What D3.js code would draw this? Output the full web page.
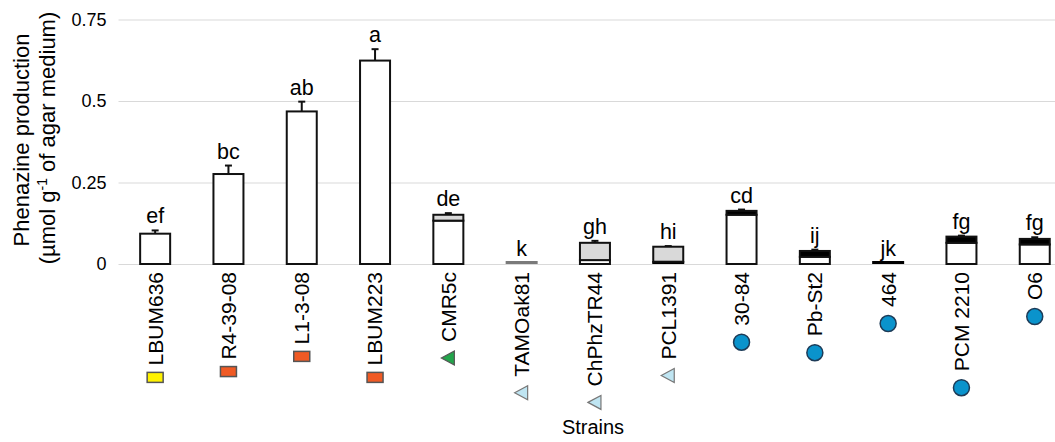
<!DOCTYPE html>
<html>
<head>
<meta charset="utf-8">
<script src="https://cdn.jsdelivr.net/npm/d3@7"></script>
<style>
  html, body { margin: 0; padding: 0; background: #fff; }
  svg { display: block; font-family: "Liberation Sans", Arial, sans-serif; }
</style>
</head>
<body>
<svg id="chart" width="1055" height="442"></svg>
<script>
// ---- data ----
const strains = ["LBUM636", "R4-39-08", "L1-3-08", "LBUM223", "CMR5c", "TAMOak81", "ChPhzTR44", "PCL1391", "30-84", "Pb-St2", "464", "PCM 2210", "O6"];
const whiteVals = [0.093, 0.276, 0.468, 0.624, 0.133, 0, 0.012, 0.007, 0.151, 0.022, 0, 0.065, 0.060];
const greyVals  = [0, 0, 0, 0, 0.018, 0.003, 0.053, 0.046, 0, 0, 0, 0, 0];
const blackVals = [0, 0, 0, 0, 0, 0, 0, 0, 0.012, 0.018, 0.004, 0.019, 0.017];
const errVals   = [0.010, 0.026, 0.030, 0.035, 0.005, 0, 0.006, 0.002, 0.004, 0.004, 0, 0.003, 0.005];
const letters   = ["ef", "bc", "ab", "a", "de", "k", "gh", "hi", "cd", "ij", "jk", "fg", "fg"];
const groups    = ["yellow", "orange", "orange", "orange", "green", "lightblue", "lightblue", "lightblue", "blue", "blue", "blue", "blue", "blue"];
const yTicks    = [0, 0.25, 0.5, 0.75];
const seriesKeys = ["white", "grey", "black"];

// ---- styles ----
const segFill = { white: "#ffffff", grey: "#d9d9d9", black: "#000000" };
const markerStyle = {
  yellow:    { shape: "rect", fill: "#fff200", stroke: "#555" },
  orange:    { shape: "rect", fill: "#f05a24", stroke: "#555" },
  green:     { shape: "tri",  fill: "#22a54b", stroke: "#555" },
  lightblue: { shape: "tri",  fill: "#bfe5f2", stroke: "#777" },
  blue:      { shape: "circle", fill: "#0a93cc", stroke: "#1d3b57" }
};

const rows = strains.map((s, i) => ({ strain: s, white: whiteVals[i], grey: greyVals[i], black: blackVals[i] }));
const stacked = d3.stack().keys(seriesKeys)(rows);

const svg = d3.select("#chart");
const x = d3.scaleBand().domain(strains).range([118.5, 1071.4]).padding(0);
const y = d3.scaleLinear().domain([0, 0.75]).range([264, 19.5]);
const barW = 30;
const cx = s => x(s) + x.bandwidth() / 2;

// grid + y tick labels
const yAxis = d3.axisLeft(y).tickValues(yTicks).tickSize(-(1071.4 - 118.5)).tickPadding(12)
  .tickFormat(d => String(d));
const gy = svg.append("g").attr("transform", "translate(118.5,0)").call(yAxis);
gy.select(".domain").remove();
gy.selectAll(".tick line").attr("stroke", "#d9d9d9").attr("stroke-width", 1);
gy.selectAll(".tick text").attr("font-size", 18).attr("fill", "#000")
  .attr("font-family", "Liberation Sans, Arial, sans-serif");

// bars
const gBars = svg.append("g");
stacked.forEach(layer => {
  const key = layer.key;
  layer.forEach((seg, i) => {
    const v = seg[1] - seg[0];
    if (v <= 0) return;
    const s = strains[i];
    const y1 = y(seg[1]), y0 = y(seg[0]);
    const h = y0 - y1;
    if (h < 3) {
      gBars.append("rect")
        .attr("x", cx(s) - barW / 2 - 1).attr("width", barW + 2)
        .attr("y", y0 - 3).attr("height", 3)
        .attr("fill", key === "grey" ? "#7a7a7a" : "#000");
    } else {
      gBars.append("rect")
        .attr("x", cx(s) - barW / 2).attr("width", barW)
        .attr("y", y1).attr("height", h)
        .attr("fill", segFill[key]).attr("stroke", "#111").attr("stroke-width", 2);
    }
  });
});

// error bars
const tops = rows.map(r => r.white + r.grey + r.black);
const gErr = svg.append("g").attr("stroke", "#111").attr("stroke-width", 2);
strains.forEach((s, i) => {
  if (errVals[i] <= 0) return;
  const yt = y(tops[i] + errVals[i]);
  gErr.append("line").attr("x1", cx(s)).attr("x2", cx(s)).attr("y1", y(tops[i])).attr("y2", yt);
  gErr.append("line").attr("x1", cx(s) - 3.5).attr("x2", cx(s) + 3.5).attr("y1", yt).attr("y2", yt);
});

// significance letters
svg.append("g").selectAll("text").data(strains).join("text")
  .attr("x", d => cx(d))
  .attr("y", (d, i) => y(tops[i] + errVals[i]) - 7)
  .attr("text-anchor", "middle").attr("font-size", 21.5).attr("fill", "#000")
  .text((d, i) => letters[i]);

// strain labels + markers
const labelTop = 272;
const gLab = svg.append("g");
strains.forEach((s, i) => {
  const t = gLab.append("text")
    .attr("transform", `translate(${cx(s)},${labelTop}) rotate(-90)`)
    .attr("text-anchor", "end").attr("dy", "0.35em")
    .attr("font-size", 21).attr("fill", "#000").text(s);
  const len = t.node().getComputedTextLength();
  const st = markerStyle[groups[i]];
  const my = labelTop + len + 7;
  if (st.shape === "rect") {
    gLab.append("rect").attr("x", cx(s) - 8).attr("y", my).attr("width", 16).attr("height", 10)
      .attr("fill", st.fill).attr("stroke", st.stroke).attr("stroke-width", 1.5);
  } else if (st.shape === "tri") {
    const c = my + 9;
    gLab.append("path")
      .attr("d", `M${cx(s) - 7},${c} L${cx(s) + 6},${c - 7} L${cx(s) + 6},${c + 7} Z`)
      .attr("fill", st.fill).attr("stroke", st.stroke).attr("stroke-width", 1.2);
  } else {
    gLab.append("circle").attr("cx", cx(s)).attr("cy", my + 9.5).attr("r", 8)
      .attr("fill", st.fill).attr("stroke", st.stroke).attr("stroke-width", 1.5);
  }
});

// axis titles
svg.append("text").attr("transform", "translate(29,140) rotate(-90)")
  .attr("text-anchor", "middle").attr("font-size", 22).attr("fill", "#000")
  .text("Phenazine production");
const yt2 = svg.append("text").attr("transform", "translate(55,138) rotate(-90)")
  .attr("text-anchor", "middle").attr("font-size", 22).attr("fill", "#000");
yt2.append("tspan").text("(µmol g");
yt2.append("tspan").attr("baseline-shift", "super").attr("font-size", 14).text("-1");
yt2.append("tspan").text(" of agar medium)");

svg.append("text").attr("x", 593).attr("y", 434).attr("text-anchor", "middle")
  .attr("font-size", 20).attr("fill", "#000").text("Strains");
</script>
</body>
</html>
